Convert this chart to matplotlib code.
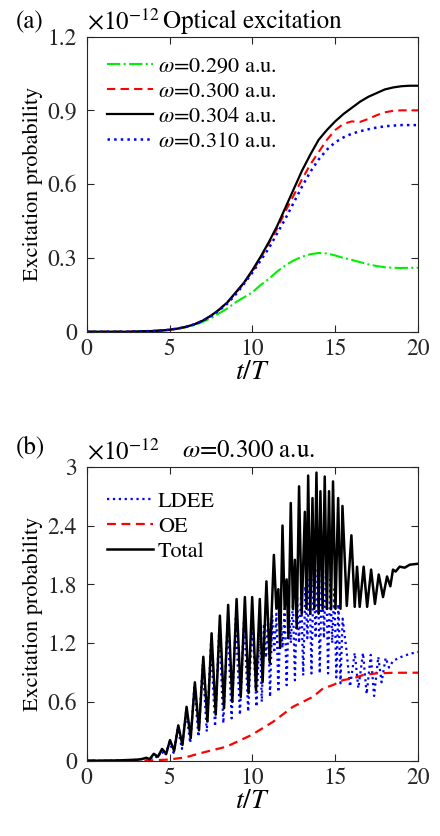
import numpy as np
import matplotlib
matplotlib.use('Agg')
import matplotlib.pyplot as plt

plt.rcParams['font.family'] = ['STIXGeneral', 'DejaVu Serif']
plt.rcParams['mathtext.fontset'] = 'stix'

# ---------------- panel (a): optical excitation (units of 1e-12) ----------------
t_a = np.arange(0, 20.5, 0.5)
p_0290 = [0, 0, 0, 0, 0, 0, 0.001, 0.002, 0.003, 0.004, 0.007, 0.012, 0.018, 0.027,
          0.04, 0.055, 0.075, 0.095, 0.12, 0.14, 0.16, 0.19, 0.215, 0.245, 0.27,
          0.29, 0.305, 0.315, 0.32, 0.318, 0.31, 0.30, 0.292, 0.283, 0.274, 0.267,
          0.262, 0.26, 0.259, 0.26, 0.26]
p_0300 = [0, 0, 0, 0, 0, 0, 0.001, 0.002, 0.003, 0.005, 0.008, 0.013, 0.02, 0.03,
          0.045, 0.065, 0.09, 0.12, 0.158, 0.198, 0.245, 0.30, 0.36, 0.42, 0.49,
          0.555, 0.62, 0.68, 0.73, 0.78, 0.82, 0.845, 0.855, 0.853, 0.865, 0.88,
          0.892, 0.898, 0.90, 0.90, 0.90]
p_0304 = [0, 0, 0, 0, 0, 0, 0.001, 0.002, 0.003, 0.005, 0.008, 0.013, 0.02, 0.03,
          0.045, 0.065, 0.09, 0.12, 0.16, 0.20, 0.25, 0.305, 0.365, 0.43, 0.505,
          0.58, 0.655, 0.72, 0.78, 0.82, 0.855, 0.885, 0.91, 0.935, 0.955, 0.97,
          0.985, 0.993, 0.998, 1.0, 1.0]
p_0310 = [0, 0, 0, 0, 0, 0, 0.001, 0.002, 0.003, 0.005, 0.008, 0.013, 0.02, 0.03,
          0.044, 0.063, 0.087, 0.115, 0.152, 0.195, 0.24, 0.29, 0.34, 0.40, 0.46,
          0.525, 0.59, 0.65, 0.70, 0.74, 0.77, 0.79, 0.805, 0.815, 0.823, 0.83,
          0.835, 0.838, 0.84, 0.84, 0.84]

# ---------------- panel (b): omega = 0.300 a.u. ----------------
# OE (red dashed)
t_oe = [0, 1, 2, 3, 4, 5, 6, 6.83, 8.44, 9.95, 11.26, 12.46, 13.67, 14.27, 14.87,
        15.48, 16.08, 16.68, 17.49, 18.5, 20]
p_oe = [0, 0, 0, 0, 0.003, 0.012, 0.035, 0.075, 0.143, 0.262, 0.398, 0.551, 0.653,
        0.738, 0.772, 0.823, 0.84, 0.874, 0.891, 0.897, 0.898]

t_tot = [0, 1, 2, 3, 3.3, 3.6, 3.8, 4.05, 4.3, 4.55, 4.8, 5.03, 5.28, 5.53, 5.78,
         6.03, 6.28, 6.53, 6.78, 7.04, 7.29, 7.54, 7.79, 8.04, 8.29, 8.54, 8.79,
         9.05, 9.3, 9.55, 9.77, 9.99, 10.22, 10.45, 10.62, 10.85, 11.05, 11.30,
         11.45, 11.57, 11.68, 11.82, 11.95, 12.07, 12.18, 12.32, 12.45, 12.57,
         12.68, 12.82, 12.98, 13.17, 13.27, 13.37, 13.50, 13.63, 13.74, 13.87,
         14.00, 14.11, 14.24, 14.37, 14.50, 14.63, 14.75, 14.87, 15.02, 15.18,
         15.32, 15.44, 15.70, 15.98, 16.18, 16.32, 16.48, 16.72, 16.93, 17.17,
         17.40, 17.63, 17.89, 18.13, 18.33, 18.49, 18.65, 18.89, 19.2, 19.5, 20]
p_tot = [0, 0, 0.003, 0.01, 0.015, 0.03, 0.015, 0.07, 0.04, 0.12, 0.07, 0.21, 0.10,
         0.36, 0.16, 0.55, 0.23, 0.80, 0.31, 1.06, 0.40, 1.30, 0.47, 1.48, 0.535,
         1.59, 0.60, 1.65, 0.65, 1.67, 0.69, 1.67, 0.72, 1.65, 0.80, 1.83, 1.00,
         2.10, 1.55, 1.75, 1.15, 2.40, 1.55, 1.85, 1.25, 2.63, 1.55, 2.05, 1.35,
         2.80, 1.50, 2.54, 1.55, 2.91, 1.50, 2.68, 1.55, 2.94, 1.50, 2.75, 1.55,
         2.90, 1.55, 2.75, 1.55, 2.85, 1.55, 2.68, 1.55, 2.60, 1.58, 2.30, 1.57,
         1.98, 1.57, 1.98, 1.57, 1.95, 1.60, 1.90, 1.67, 1.88, 1.78, 1.95, 1.93,
         1.98, 1.97, 2.0, 2.01]

# LDEE (blue dotted): successive maxima/minima
t_ldee = [0, 1, 2, 3, 3.6, 3.8, 4.05, 4.3, 4.5, 4.75, 5.0, 5.25, 5.5, 5.75, 6.0,
          6.25, 6.5, 6.75, 7.0, 7.25, 7.5, 7.75, 8.0, 8.25, 8.5, 8.75, 9.0, 9.25,
          9.5, 9.75, 10.0, 10.25, 10.45, 10.57, 10.7, 10.82, 10.95, 11.07, 11.2,
          11.32, 11.45, 11.57, 11.7, 11.82, 11.95, 12.07, 12.2, 12.32, 12.45,
          12.57, 12.7, 12.82, 12.95, 13.07, 13.2, 13.32, 13.45, 13.57, 13.7,
          13.82, 13.95, 14.07, 14.2, 14.32, 14.45, 14.57, 14.7, 14.82, 14.95,
          15.07, 15.2, 15.32, 15.45, 15.68, 15.9, 16.18, 16.4, 16.68, 16.9,
          17.15, 17.35, 17.6, 17.8, 18.05, 18.25, 18.5, 19, 19.5, 20]
p_ldee = [0, 0, 0.002, 0.008, 0.025, 0.01, 0.05, 0.03, 0.10, 0.05, 0.19, 0.08,
          0.33, 0.12, 0.50, 0.18, 0.75, 0.245, 0.98, 0.296, 1.20, 0.347, 1.35,
          0.381, 1.42, 0.432, 1.45, 0.466, 1.45, 0.50, 1.42, 0.55, 1.38, 0.60,
          1.40, 1.05, 1.45, 0.65, 1.48, 1.10, 1.50, 0.70, 1.52, 1.15, 1.55, 0.77,
          1.58, 1.20, 1.62, 0.82, 1.68, 1.20, 1.72, 0.87, 1.78, 1.25, 1.85, 0.89,
          1.92, 1.25, 1.97, 0.89, 2.01, 1.25, 1.98, 0.89, 1.85, 1.20, 1.75, 0.85,
          1.60, 0.79, 1.45, 1.13, 0.755, 1.10, 0.74, 1.10, 0.68, 1.08, 0.66, 1.06,
          0.80, 1.05, 0.95, 1.02, 1.06, 1.09, 1.11]

fig = plt.figure(figsize=(4.4, 8.36), dpi=100)
ax1 = fig.add_axes([0.197, 0.6032, 0.753, 0.3531])
ax2 = fig.add_axes([0.197, 0.0901, 0.753, 0.3516])

ax1.plot(t_a, p_0290, color='#00f000', ls='-.', lw=1.5, label=r'$\omega$=0.290 a.u.')
ax1.plot(t_a, p_0300, color='r', ls='--', dashes=(4, 2.5), lw=1.5, label=r'$\omega$=0.300 a.u.')
ax1.plot(t_a, p_0304, color='k', ls='-', lw=1.6, label=r'$\omega$=0.304 a.u.')
ax1.plot(t_a, p_0310, color='b', ls=':', lw=1.8, label=r'$\omega$=0.310 a.u.')

ax2.plot(t_ldee, p_ldee, color='b', ls=':', lw=1.6, label='LDEE')
ax2.plot(t_oe, p_oe, color='r', ls='--', dashes=(4, 2.5), lw=1.6, label='OE')
ax2.plot(t_tot, p_tot, color='k', ls='-', lw=1.8, label='Total')

for ax, ymax, yt, ytl, leg_y in [
        (ax1, 1.2, [0, 0.3, 0.6, 0.9, 1.2], ['0', '0.3', '0.6', '0.9', '1.2'], 1.0),
        (ax2, 3.0, [0, 0.6, 1.2, 1.8, 2.4, 3.0], ['0', '0.6', '1.2', '1.8', '2.4', '3'], 0.985)]:
    ax.set_xlim(0, 20)
    ax.set_ylim(0, ymax)
    ax.set_xticks([0, 5, 10, 15, 20])
    ax.set_xticklabels(['0', '5', '10', '15', '20'])
    ax.set_yticks(yt)
    ax.set_yticklabels(ytl)
    ax.tick_params(direction='in', top=True, right=True, length=5, width=0.8,
                   labelsize=17, colors='#262626', labelcolor='#262626')
    ax.tick_params(axis='y', pad=7)
    ax.tick_params(axis='x', pad=5)
    for s in ax.spines.values():
        s.set_color('#262626')
        s.set_linewidth(0.8)
    ax.set_xlabel(r'$t/T$', fontsize=20, labelpad=0)
    ax.set_ylabel('Excitation probability', fontsize=16)
    ax.yaxis.set_label_coords(-0.132, 0.5)
    ax.text(0.0, 1.005, r'$\times10^{-12}$', transform=ax.transAxes, fontsize=18,
            va='bottom', ha='left')
    ax.legend(loc='upper left', frameon=False, fontsize=16, handlelength=2.1,
              handletextpad=0.2, labelspacing=0.2, borderaxespad=0.5,
              bbox_to_anchor=(0.0, leg_y))

fig.text(16 / 440, 1 - 28 / 836, '(a)', fontsize=18, va='baseline', ha='left')
fig.text(163 / 440, 1 - 28 / 836, 'Optical excitation', fontsize=18, va='baseline', ha='left')
fig.text(16 / 440, 1 - 453 / 836, '(b)', fontsize=18, va='baseline', ha='left')
fig.text(182 / 440, 1 - 457 / 836, r'$\omega$=0.300 a.u.', fontsize=18, va='baseline', ha='left')

fig.savefig('out.png', dpi=100)
